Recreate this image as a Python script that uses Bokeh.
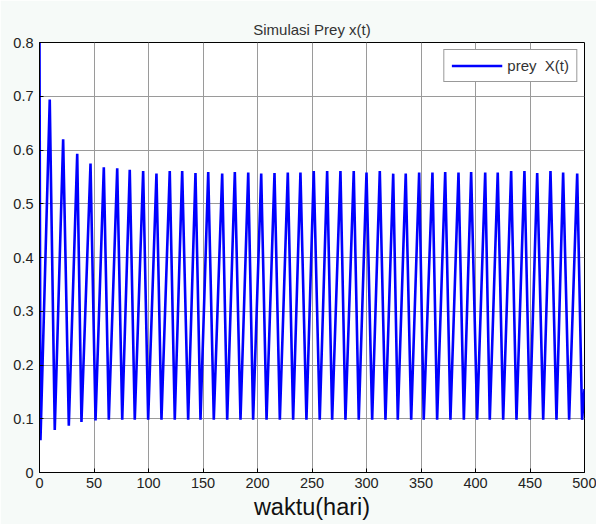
from bokeh.plotting import figure
from bokeh.models import FixedTicker, Range1d, Legend, LegendItem
from bokeh.embed import file_html
from bokeh.resources import INLINE

# ---- data ----
start_t = 0.0
start_x = 0.80
trough_t = [0.9, 14.0, 26.9, 38.5, 51.4, 63.6, 75.9, 87.4, 99.7, 111.9, 124.1, 136.4,
            147.7, 159.9, 172.2, 184.4, 196.0, 208.3, 220.5, 232.7, 244.9, 257.1, 268.5,
            280.7, 292.9, 305.2, 317.4, 328.7, 341.0, 352.5, 364.8, 377.0, 389.3, 401.5,
            413.1, 425.4, 437.6, 449.8, 462.1, 474.3, 485.9, 497.8]
trough_x = [0.060, 0.079, 0.087, 0.094, 0.097, 0.098, 0.098, 0.098, 0.098, 0.098, 0.098, 0.098,
            0.098, 0.098, 0.098, 0.098, 0.098, 0.098, 0.098, 0.098, 0.098, 0.098, 0.098,
            0.098, 0.098, 0.098, 0.098, 0.098, 0.098, 0.098, 0.098, 0.098, 0.098, 0.098,
            0.098, 0.098, 0.098, 0.098, 0.098, 0.098, 0.098, 0.098]
peak_t = [9.4, 21.7, 34.6, 46.8, 59.0, 71.3, 82.8, 95.1, 107.3, 119.5, 130.9, 143.1,
          154.8, 167.6, 179.2, 191.5, 203.4, 215.6, 227.8, 239.4, 251.6, 263.9, 276.1,
          288.3, 300.0, 312.2, 324.5, 336.0, 348.3, 360.5, 372.2, 384.4, 396.0, 408.9,
          420.4, 432.7, 444.9, 456.6, 468.8, 480.4, 493.3]
peak_x = [0.694, 0.620, 0.593, 0.575, 0.568, 0.566, 0.563, 0.561, 0.556, 0.561, 0.561, 0.557,
          0.559, 0.556, 0.559, 0.558, 0.556, 0.557, 0.558, 0.558, 0.561, 0.561, 0.561,
          0.561, 0.558, 0.561, 0.556, 0.556, 0.558, 0.558, 0.559, 0.558, 0.559, 0.558,
          0.558, 0.561, 0.561, 0.557, 0.561, 0.558, 0.556]
end_t = 500.0
end_x = 0.155

x_ticks = [0, 50, 100, 150, 200, 250, 300, 350, 400, 450, 500]
y_ticks = [0, 0.1, 0.2, 0.3, 0.4, 0.5, 0.6, 0.7, 0.8]

# assemble series in time order
t = [start_t]
x = [start_x]
for i in range(len(trough_t)):
    t.append(trough_t[i]); x.append(trough_x[i])
    if i < len(peak_t):
        t.append(peak_t[i]); x.append(peak_x[i])
t.append(end_t); x.append(end_x)

FONT = "Liberation Sans"

p = figure(width=596, height=524, output_backend="svg", toolbar_location=None,
           x_range=Range1d(0, 500), y_range=Range1d(0, 0.8),
           min_border_left=39, min_border_right=12, min_border_top=42, min_border_bottom=52,
           title="Simulasi Prey x(t)")
p.background_fill_color = "#ffffff"
p.border_fill_color = "#f6faf8"
p.outline_line_color = "#000000"
p.outline_line_width = 1

p.title.align = "center"
p.title.text_font = FONT
p.title.text_font_size = "15px"
p.title.text_font_style = "normal"
p.title.text_color = "#333333"
p.title.standoff = 9

for ax in (p.xaxis[0], p.yaxis[0]):
    ax.axis_line_color = "#000000"
    ax.major_tick_in = 4
    ax.major_tick_out = 0
    ax.minor_tick_line_color = None
    ax.major_tick_line_color = "#000000"
    ax.major_label_text_font = FONT
    ax.major_label_text_font_size = "14.5px"
    ax.major_label_text_color = "#222222"

p.xaxis[0].ticker = FixedTicker(ticks=x_ticks)
p.yaxis[0].ticker = FixedTicker(ticks=y_ticks)
p.yaxis[0].major_label_overrides = {0: "0"}
p.xaxis[0].major_label_standoff = 5
p.yaxis[0].major_label_standoff = 6
p.xaxis[0].axis_label = "waktu(hari)"
p.xaxis[0].axis_label_text_font = FONT
p.xaxis[0].axis_label_text_font_size = "23.5px"
p.xaxis[0].axis_label_text_font_style = "normal"
p.xaxis[0].axis_label_text_color = "#111111"
p.xaxis[0].axis_label_standoff = 3

p.xgrid.ticker = FixedTicker(ticks=x_ticks)
p.ygrid.ticker = FixedTicker(ticks=y_ticks)
p.grid.grid_line_color = "#9a9a9a"
p.grid.grid_line_width = 1

r = p.line(t, x, line_color="#0000ff", line_width=2.6)

legend = Legend(items=[LegendItem(label="prey  X(t)", renderers=[r])],
                location="top_right")
legend.label_text_font = FONT
legend.label_text_font_size = "15px"
legend.label_text_color = "#333333"
legend.glyph_width = 51
legend.glyph_height = 15
legend.label_height = 15
legend.label_standoff = 5
legend.padding = 7
legend.margin = 7
legend.border_line_color = "#333333"
legend.border_line_width = 1
legend.background_fill_color = "#ffffff"
legend.background_fill_alpha = 1.0
p.add_layout(legend)

open("out.html", "w").write(file_html(p, INLINE))
